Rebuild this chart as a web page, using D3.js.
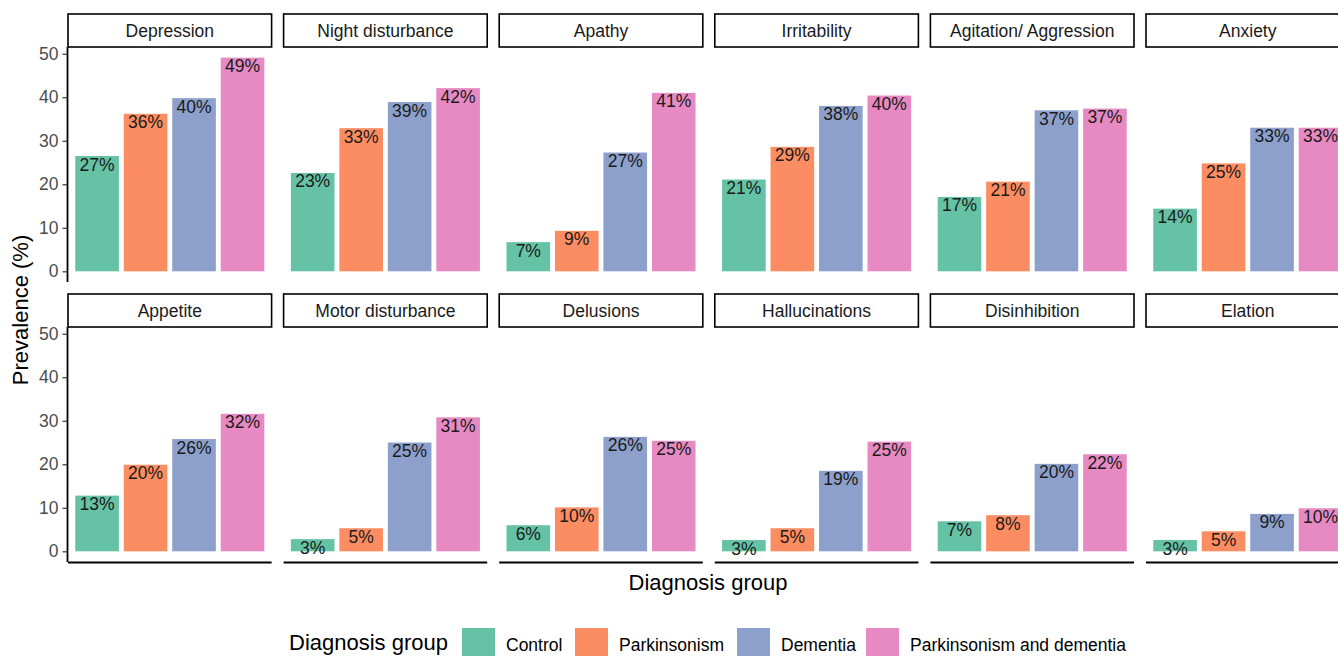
<!DOCTYPE html>
<html>
<head>
<meta charset="utf-8">
<script src="https://cdn.jsdelivr.net/npm/d3@7"></script>
<style>
  body { margin: 0; background: #fff; }
  svg text { font-family: "Liberation Sans", Arial, sans-serif; }
</style>
</head>
<body>
<svg id="chart" width="1338" height="656"></svg>
<script>
// facets in display order
var symptoms = ["Depression", "Night disturbance", "Apathy", "Irritability", "Agitation/ Aggression", "Anxiety",
  "Appetite", "Motor disturbance", "Delusions", "Hallucinations", "Disinhibition", "Elation"];
var groups = ["Control", "Parkinsonism", "Dementia", "Parkinsonism and dementia"];
var colors = ["#66C2A5", "#FC8D62", "#8DA0CB", "#E78AC3"];

// prevalence (%) per group, one value per symptom
var control = [26.5, 22.6, 6.7, 21.1, 17.1, 14.4, 12.8, 2.8, 6.0, 2.6, 6.9, 2.6];
var parkinsonism = [36.2, 32.9, 9.3, 28.6, 20.6, 24.8, 19.9, 5.3, 10.1, 5.3, 8.3, 4.6];
var dementia = [39.8, 38.9, 27.3, 38.0, 37.0, 33.0, 25.8, 25.0, 26.3, 18.5, 20.1, 8.6];
var parkDementia = [49.1, 42.1, 41.0, 40.4, 37.4, 33.0, 31.6, 30.8, 25.4, 25.2, 22.3, 9.9];
var yTicks = [0, 10, 20, 30, 40, 50];

var series = [control, parkinsonism, dementia, parkDementia];

var svg = d3.select("#chart");

var panelW = 203.6, pitch = 215.6, left0 = 68;
var rows = [
  { stripTop: 14, top: 47, bottom: 282 },
  { stripTop: 294, top: 327, bottom: 562 }
];
var stripH = 33;
var fs = 17.5, titleFs = 22;

// shared y scale shape; ggplot-like 5% expansion
var yMin = -2.455, yMax = 51.55;

symptoms.forEach(function (name, i) {
  var row = rows[Math.floor(i / 6)];
  var col = i % 6;
  var x0 = left0 + col * pitch;

  var x = d3.scaleBand().domain(groups)
    .range([x0, x0 + panelW]).paddingInner(0.1).paddingOuter(0.15);
  var y = d3.scaleLinear().domain([yMin, yMax]).range([row.bottom, row.top]);

  var g = svg.append("g").attr("class", "panel");

  // strip
  g.append("rect")
    .attr("x", x0).attr("y", row.stripTop)
    .attr("width", panelW).attr("height", stripH)
    .attr("fill", "#fff").attr("stroke", "#000").attr("stroke-width", 1.6);
  g.append("text")
    .attr("x", x0 + panelW / 2).attr("y", row.stripTop + stripH / 2 + 6)
    .attr("text-anchor", "middle").attr("font-size", fs).attr("fill", "#1a1a1a")
    .text(name);

  // bars
  var vals = groups.map(function (grp, k) { return { grp: grp, v: series[k][i], c: colors[k] }; });
  g.selectAll("rect.bar").data(vals).enter().append("rect")
    .attr("class", "bar")
    .attr("x", function (d) { return x(d.grp); })
    .attr("width", x.bandwidth())
    .attr("y", function (d) { return y(d.v); })
    .attr("height", function (d) { return y(0) - y(d.v); })
    .attr("fill", function (d) { return d.c; });

  g.selectAll("text.lab").data(vals).enter().append("text")
    .attr("class", "lab")
    .attr("x", function (d) { return x(d.grp) + x.bandwidth() / 2; })
    .attr("y", function (d) { return y(d.v) + 14.5; })
    .attr("text-anchor", "middle").attr("font-size", fs).attr("fill", "#1a1a1a")
    .text(function (d) { return Math.round(d.v) + "%"; });

  // x axis line only on bottom row
  if (i >= 6) {
    g.append("line")
      .attr("x1", x0).attr("x2", x0 + panelW)
      .attr("y1", row.bottom + 0.5).attr("y2", row.bottom + 0.5)
      .attr("stroke", "#000").attr("stroke-width", 1.8);
  }

  // y axis only on first column
  if (col === 0) {
    var ax = g.append("g").attr("transform", "translate(" + (x0 - 0.5) + ",0)")
      .call(d3.axisLeft(y).tickValues(yTicks).tickSize(5).tickPadding(4));
    ax.select(".domain").attr("stroke", "#000").attr("stroke-width", 1.8)
      .attr("d", "M0," + row.top + "V" + row.bottom);
    ax.selectAll(".tick line").attr("stroke", "#333").attr("stroke-width", 1.2);
    ax.selectAll(".tick text").attr("font-size", fs).attr("fill", "#4d4d4d")
      .attr("font-family", "Liberation Sans, Arial, sans-serif");
  }
});

// axis titles
svg.append("text")
  .attr("transform", "translate(28,310) rotate(-90)")
  .attr("text-anchor", "middle").attr("font-size", titleFs).attr("fill", "#000")
  .text("Prevalence (%)");
svg.append("text")
  .attr("x", 708).attr("y", 590)
  .attr("text-anchor", "middle").attr("font-size", titleFs).attr("fill", "#000")
  .text("Diagnosis group");

// legend
var legend = svg.append("g");
legend.append("text").attr("x", 289).attr("y", 650)
  .attr("font-size", titleFs).attr("fill", "#000").text("Diagnosis group");
var keyX = [462, 575, 737, 866];
groups.forEach(function (grp, k) {
  legend.append("rect").attr("x", keyX[k]).attr("y", 628)
    .attr("width", 33).attr("height", 34).attr("fill", colors[k]);
  legend.append("text").attr("x", keyX[k] + 44).attr("y", 651)
    .attr("font-size", fs).attr("fill", "#000").text(grp);
});
</script>
</body>
</html>
